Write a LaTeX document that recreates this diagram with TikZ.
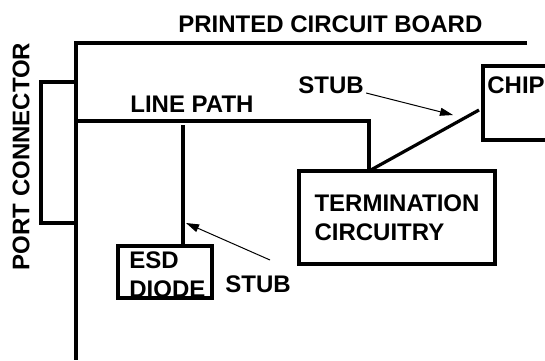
\documentclass[tikz,border=0pt]{standalone}
\usepackage{fontspec}
\setmainfont{Liberation Sans}
\usepackage{tikz}
\usetikzlibrary{arrows.meta,positioning}

\begin{document}
\begin{tikzpicture}[x=0.5pt, y=-0.5pt,
      every node/.style={font=\fontsize{12}{14.5}\selectfont\bfseries},
      box/.style={draw, line width=1.6pt, inner sep=0pt},
      lbl/.style={inner sep=0pt, anchor=base west},
      wire/.style={line width=1.6pt},
      arr/.style={-{Triangle[length=6.5pt, width=4pt]}, line width=0.5pt}
  ]
    \useasboundingbox (0,0) rectangle (545,360);
    % board outline
    \coordinate (pcbtop) at (527,43);
    \coordinate (pcbbot) at (76,360);
    \draw[wire] (pcbtop) -- (pcbtop -| pcbbot) -- (pcbbot);
    \node[lbl] (pcb) at (178,32) {PRINTED CIRCUIT BOARD};
    % connector
    \node[box, minimum width=17.5pt, minimum height=70.5pt] (port) at (58.5,152.5) {};
    \node[inner sep=0pt, rotate=90] (portlbl) at (21,156.5) {PORT CONNECTOR};
    % boxes
    \node[box, minimum width=98pt, minimum height=46.5pt, align=left] (term) at (397,217.5)
         {TERMINATION\\ CIRCUITRY};
    \node[box, minimum width=47pt, minimum height=26pt] (esd) at (165,272) {};
    \node[lbl, align=left, anchor=north west] (esdlbl) at (129,251) {ESD\\ DIODE};
    \node[box, minimum width=41pt, minimum height=37pt] (chip) at (524,103) {};
    \node[lbl] (chiplbl) at (487,93) {CHIP};
    % line path
    \coordinate (lp) at (76,121);
    \coordinate (tap) at (369,171);
    \draw[wire] (lp) -| (tap);
    \node[lbl] (lplbl) at (130,112) {LINE PATH};
    % stubs
    \coordinate (esdtap) at (183,125);
    \draw[wire] (esdtap) -- (esdtap |- esd.north);
    \coordinate (chipin) at (479,110);
    \draw[wire] (tap) -- (chipin);
    \node[lbl] (stubup) at (298,93) {STUB};
    \node[lbl] (stubdn) at (225,292) {STUB};
    \coordinate (stubupend) at (453,115);
    \coordinate (stubdnfrom) at (270,260);
    \coordinate (stubdnend) at (186,223);
    \draw[arr] (stubup.base east) ++(2,0) -- (stubupend);
    \draw[arr] (stubdnfrom) -- (stubdnend);
  \end{tikzpicture}
\end{document}
